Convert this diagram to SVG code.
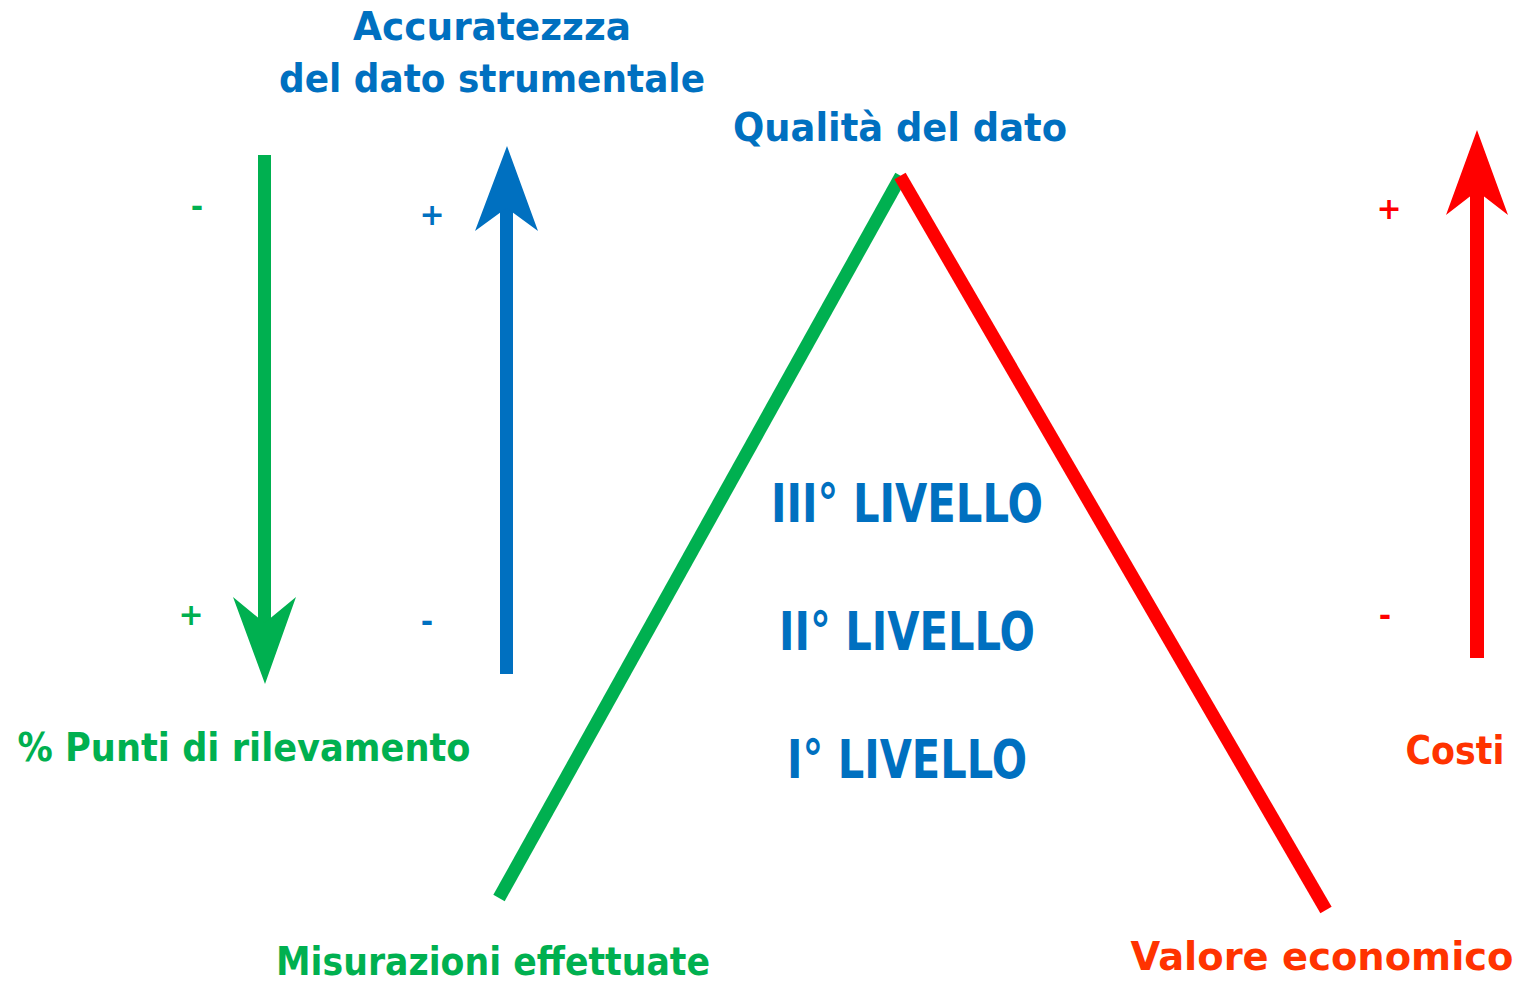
<svg xmlns="http://www.w3.org/2000/svg" width="1522" height="981" viewBox="0 0 1522 981">
<style>
text{font-family:"DejaVu Sans","Liberation Sans",sans-serif;font-weight:bold}
.g{fill:#00B050}.b{fill:#0070C0}.r{fill:#FF0000}.o{fill:#FF3300}
.lbl{font-size:39px}
.lv{font-size:53px}
.sg{font-size:30px}
</style>
<rect width="1522" height="981" fill="#fff"/>
<g id="connectors">
<line x1="499" y1="898" x2="901" y2="176" stroke="#00B050" stroke-width="13"/>
<line x1="900" y1="176" x2="1326" y2="910" stroke="#FF0000" stroke-width="13"/>
<g id="arrow-green">
<rect x="258" y="155" width="13" height="470" fill="#00B050"/>
<polygon points="233,597 264.5,623 296,597 265,684" fill="#00B050"/>
</g>
<g id="arrow-blue">
<rect x="500" y="205" width="13" height="469" fill="#0070C0"/>
<polygon points="475,231 506.5,208 538,231 507,146" fill="#0070C0"/>
</g>
<g id="arrow-red">
<rect x="1470" y="188" width="14" height="470" fill="#FF0000"/>
<polygon points="1446,215 1477,191 1508,215 1477,130" fill="#FF0000"/>
</g>
</g>
<g id="node-accuratezza">
<text class="lbl b" x="492" y="40" text-anchor="middle" textLength="278" lengthAdjust="spacingAndGlyphs">Accuratezzza</text>
<text class="lbl b" x="492" y="92" text-anchor="middle" textLength="426" lengthAdjust="spacingAndGlyphs">del dato strumentale</text>
</g>
<g id="node-qualita">
<text class="lbl b" x="900" y="141" text-anchor="middle" textLength="334" lengthAdjust="spacingAndGlyphs">Qualità del dato</text>
</g>
<g id="node-livello3"><text class="lv b" x="907" y="522" text-anchor="middle" textLength="272" lengthAdjust="spacingAndGlyphs">III° LIVELLO</text></g>
<g id="node-livello2"><text class="lv b" x="907" y="650" text-anchor="middle" textLength="256" lengthAdjust="spacingAndGlyphs">II° LIVELLO</text></g>
<g id="node-livello1"><text class="lv b" x="907" y="778" text-anchor="middle" textLength="240" lengthAdjust="spacingAndGlyphs">I° LIVELLO</text></g>
<g id="node-punti">
<text class="lbl g" x="244" y="761" text-anchor="middle" textLength="453" lengthAdjust="spacingAndGlyphs">% Punti di rilevamento</text>
</g>
<g id="node-costi">
<text class="lbl o" x="1455" y="764" text-anchor="middle" textLength="99" lengthAdjust="spacingAndGlyphs">Costi</text>
</g>
<g id="node-misurazioni">
<text class="lbl g" x="493" y="975" text-anchor="middle" textLength="434" lengthAdjust="spacingAndGlyphs">Misurazioni effettuate</text>
</g>
<g id="node-valore">
<text class="lbl o" x="1322" y="970" text-anchor="middle" textLength="383" lengthAdjust="spacingAndGlyphs">Valore economico</text>
</g>
<g id="signs">
<text class="sg g" x="197" y="217" text-anchor="middle">-</text>
<text class="sg b" x="432" y="225" text-anchor="middle">+</text>
<text class="sg g" x="191" y="625" text-anchor="middle">+</text>
<text class="sg b" x="427" y="632" text-anchor="middle">-</text>
<text class="sg r" x="1389" y="219" text-anchor="middle">+</text>
<text class="sg r" x="1385" y="626" text-anchor="middle">-</text>
</g>
</svg>
